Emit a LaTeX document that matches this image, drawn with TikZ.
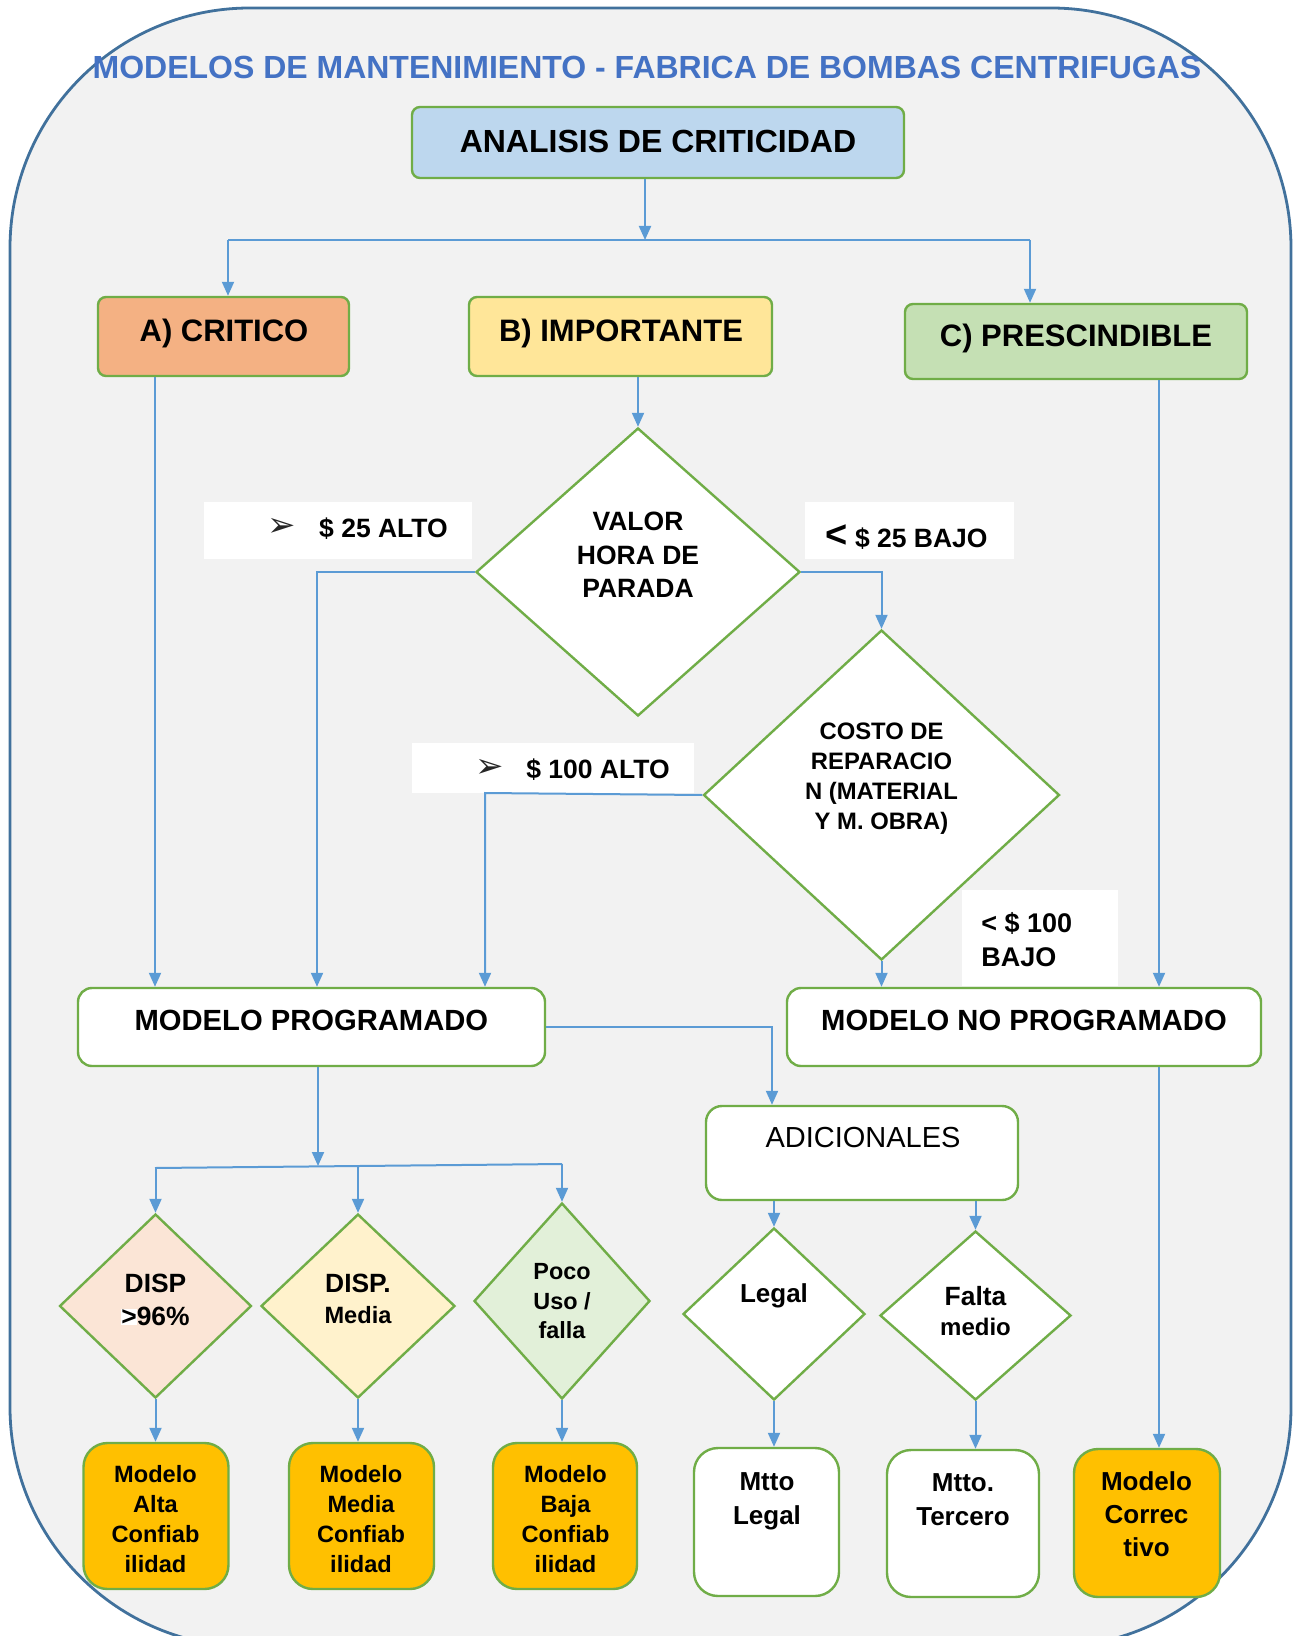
\documentclass[tikz,border=0pt]{standalone}
\usepackage{fontspec}
\setmainfont{Liberation Sans}
\newfontfamily\symfont{DejaVu Sans}
\usetikzlibrary{shapes.geometric,arrows.meta,fit,calc}
\definecolor{arrblue}{HTML}{5B9BD5}
\definecolor{bgreen}{HTML}{70AD47}
\definecolor{ttlblue}{HTML}{4472C4}
\definecolor{framec}{HTML}{41719C}
\definecolor{bggray}{HTML}{F2F2F2}
\definecolor{fblue}{HTML}{BDD7EE}
\definecolor{forange}{HTML}{F4B183}
\definecolor{fyellow}{HTML}{FFE699}
\definecolor{fgreen}{HTML}{C5E0B4}
\definecolor{fpink}{HTML}{FBE5D6}
\definecolor{fcream}{HTML}{FFF2CC}
\definecolor{fmint}{HTML}{E2F0D9}
\definecolor{fgold}{HTML}{FFC000}
\newcommand\fsz[2]{\fontsize{#1}{#2}\selectfont\bfseries}
\begin{document}
\begin{tikzpicture}[x=0.5pt,y=-0.5pt,
 box/.style={draw=bgreen,line width=1.2pt,inner sep=0pt,rounded corners=4pt},
 dia/.style={diamond,draw=bgreen,line width=1.2pt,inner sep=0pt,fill=white},
 lbl/.style={fill=white,inner sep=0pt},
 txt/.style={inner sep=0pt,align=center},
 sym/.style={inner sep=0pt,font=\symfont\fontsize{17}{18}\selectfont,text=black!85},
 arr/.style={draw=arrblue,line width=1pt,-{Triangle[length=7pt,width=6pt]}},
 ln/.style={draw=arrblue,line width=1pt},
]
\useasboundingbox (0,0) rectangle (1303,1636);
\draw[draw=framec,line width=1.4pt,fill=bggray,rounded corners=120pt] (10,8) rectangle (1291,1647);

% title
\node[txt,text=ttlblue,font=\fsz{16}{19}] (title) at (647,67) {MODELOS DE MANTENIMIENTO - FABRICA DE BOMBAS CENTRIFUGAS};

% top boxes
\node[box,fill=fblue,fit={(412,107) (904,178)}] (analisis) {};
\node[txt,font=\fsz{16}{19}] (tanal) at (658,141) {ANALISIS DE CRITICIDAD};
\node[box,fill=forange,fit={(98,297) (349,376)}] (crit) {};
\node[txt,font=\fsz{15.5}{18}] (tcrit) at (224,333) {A) CRITICO};
\node[box,fill=fyellow,fit={(469,297) (772,376)}] (imp) {};
\node[txt,font=\fsz{15.5}{18}] (timp) at (621,333) {B) IMPORTANTE};
\node[box,fill=fgreen,fit={(905,304) (1247,379)}] (pres) {};
\node[txt,font=\fsz{15.5}{18}] (tpres) at (1076,338) {C) PRESCINDIBLE};

% decision diamonds
\node[dia,minimum width=162pt,minimum height=144pt] (valor) at (638,572) {};
\node[txt,font=\fsz{13.25}{16.75}] (tvalor) at (638,555) {VALOR\\HORA DE\\PARADA};
\node[dia,minimum width=178pt,minimum height=165pt] (costo) at (881.5,795) {};
\node[txt,font=\fsz{11.9}{15}] (tcosto) at (881.5,778.5) {COSTO DE\\REPARACIO\\N (MATERIAL\\Y M. OBRA)};

% condition labels
\node[lbl,fit={(204,502) (472,559)}] (l25a) {};
\node[sym] (s25a) at (282,527) {➢};
\node[txt,font=\fsz{13.25}{16}] (t25a) at (383.5,529) {\$ 25 ALTO};
\node[lbl,fit={(805,502) (1014,559)}] (l25b) {};
\node[txt,font=\fsz{13.25}{16}] (t25b) at (906.5,537) {{\fontsize{19}{19}\selectfont<} \$ 25 BAJO};
\node[lbl,fit={(412,743) (694,793)}] (l100a) {};
\node[sym] (s100a) at (490,768) {➢};
\node[txt,font=\fsz{13.25}{16}] (t100a) at (598,770) {\$ 100 ALTO};
\node[lbl,fit={(962,890) (1118,986)}] (l100b) {};
\node[txt,align=left,anchor=west,font=\fsz{13.5}{17}] (t100b) at (981,940) {< \$ 100\\BAJO};

% model boxes
\node[box,fill=white,rounded corners=7pt,fit={(78,988) (545,1066)}] (mprog) {};
\node[txt,font=\fsz{14.6}{17}] (tmprog) at (311.4,1020) {MODELO PROGRAMADO};
\node[box,fill=white,rounded corners=7pt,fit={(787,988) (1261,1066)}] (mnoprog) {};
\node[txt,font=\fsz{14.6}{17}] (tmnoprog) at (1024,1020) {MODELO NO PROGRAMADO};
\node[box,fill=white,rounded corners=8pt,fit={(706,1106) (1018,1200)}] (adic) {};
\node[txt,font=\fontsize{14.5}{17}\selectfont] (tadic) at (863,1138) {ADICIONALES};

% small diamonds
\node[dia,fill=fpink,minimum width=96pt,minimum height=92pt] (d1) at (155.5,1306) {};
\node[txt,font=\fsz{13.2}{16}] (td1a) at (155.5,1283) {DISP};
\node[txt,font=\fsz{13.2}{16}] (td1b) at (155.5,1316) {{\fboxsep=0pt\colorbox{white}{>}}96\%};
\node[dia,fill=fcream,minimum width=97pt,minimum height=92pt] (d2) at (358,1306) {};
\node[txt,font=\fsz{13.2}{16}] (td2a) at (358,1283) {DISP.};
\node[txt,font=\fsz{11.8}{14}] (td2b) at (358,1315) {Media};
\node[dia,fill=fmint,minimum width=88pt,minimum height=98pt] (d3) at (562,1301) {};
\node[txt,font=\fsz{11.7}{14.75}] (td3) at (562,1301.5) {Poco\\Uso /\\falla};
\node[dia,minimum width=91pt,minimum height=86pt] (legal) at (774,1314) {};
\node[txt,font=\fsz{13}{16}] (tlegal) at (774,1296) {Legal};
\node[dia,minimum width=95.5pt,minimum height=84.5pt] (falta) at (975.5,1315.5) {};
\node[txt,font=\fsz{13.2}{16}] (tfaltaa) at (975.5,1296) {Falta};
\node[txt,font=\fsz{12}{14}] (tfaltab) at (975.5,1327) {medio};

% result boxes
\node[box,fill=fgold,rounded corners=12pt,fit={(83.5,1443) (228.5,1589)}] (b1) {};
\node[txt,font=\fsz{11.8}{15}] (tb1) at (155.5,1519) {Modelo\\Alta\\Confiab\\ilidad};
\node[box,fill=fgold,rounded corners=12pt,fit={(289,1443) (434,1589)}] (b2) {};
\node[txt,font=\fsz{11.8}{15}] (tb2) at (361,1519) {Modelo\\Media\\Confiab\\ilidad};
\node[box,fill=fgold,rounded corners=12pt,fit={(493,1443) (637,1589)}] (b3) {};
\node[txt,font=\fsz{11.8}{15}] (tb3) at (565.5,1519) {Modelo\\Baja\\Confiab\\ilidad};
\node[box,fill=white,rounded corners=12pt,fit={(694,1448) (839,1596)}] (b4) {};
\node[txt,font=\fsz{13}{17}] (tb4) at (767,1501) {Mtto\\Legal};
\node[box,fill=white,rounded corners=12pt,fit={(887,1450) (1039,1597)}] (b5) {};
\node[txt,font=\fsz{13}{17}] (tb5) at (963,1500) {Mtto.\\Tercero};
\node[box,fill=fgold,rounded corners=12pt,fit={(1074,1449) (1220,1597)}] (b6) {};
\node[txt,font=\fsz{13}{16.5}] (tb6) at (1146.5,1514) {Modelo\\Correc\\tivo};

% connectors
\coordinate (jt) at (645,240);
\coordinate (jl) at (228,240);
\coordinate (jr) at (1030,240);
\draw[arr] (analisis.south -| jt) -- (jt);
\draw[ln] (jl) -- (jr);
\draw[arr] (jl) -- (jl |- crit.north);
\draw[arr] (jr) -- (jr |- pres.north);
\draw[arr] (imp.south -| valor.north) -- (valor.north);
\coordinate (ja) at (317,572);
\draw[arr] (valor.west) -- (ja) -- (ja |- mprog.north);
\draw[arr] (valor.east) -| (costo.north);
\coordinate (jb) at (485,793);
\draw[arr] (costo.west) -- (jb) -- (jb |- mprog.north);
\draw[arr] (costo.south) -- (costo.south |- mnoprog.north);
\coordinate (jc) at (155,380);
\draw[arr] (crit.south -| jc) -- (jc |- mprog.north);
\coordinate (jd) at (1159,380);
\draw[arr] (pres.south -| jd) -- (jd |- mnoprog.north);
\coordinate (je) at (772,1029);
\draw[arr] (mprog.east) -| (je |- adic.north);
\coordinate (jf) at (318,1166);
\coordinate (jg) at (155,1168);
\coordinate (jh) at (562,1164);
\draw[arr] (mprog.south -| jf) -- (jf);
\draw[ln] (jg) -- (jh);
\draw[arr] (d1.north |- jg) -- (d1.north);
\draw[arr] (d2.north |- jf) -- (d2.north);
\draw[arr] (d3.north |- jh) -- (d3.north);
\draw[arr] (d1.south) -- (d1.south |- b1.north);
\draw[arr] (d2.south) -- (d2.south |- b2.north);
\draw[arr] (d3.south) -- (d3.south |- b3.north);
\draw[arr] (adic.south -| legal.north) -- (legal.north);
\draw[arr] (adic.south -| falta.north) -- (falta.north);
\draw[arr] (legal.south) -- (legal.south |- b4.north);
\draw[arr] (falta.south) -- (falta.south |- b5.north);
\draw[arr] (mnoprog.south -| jd) -- (jd |- b6.north);
\end{tikzpicture}
\end{document}
